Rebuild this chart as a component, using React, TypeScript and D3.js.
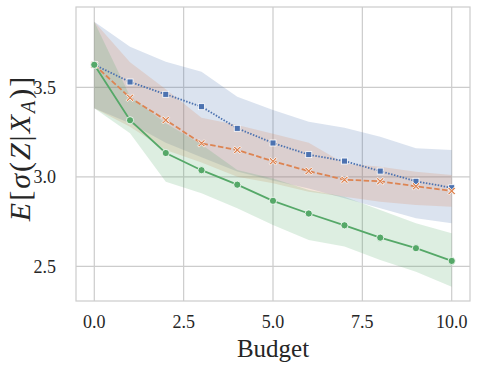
import * as d3 from "d3";

const budget = [0, 1, 2, 3, 4, 5, 6, 7, 8, 9, 10];

const blueMean = [3.626, 3.53, 3.461, 3.392, 3.271, 3.189, 3.124, 3.088, 3.032, 2.975, 2.939];
const blueUpper = [3.866, 3.727, 3.643, 3.587, 3.448, 3.373, 3.308, 3.274, 3.224, 3.159, 3.15];
const blueLower = [3.383, 3.3, 3.19, 3.11, 3.03, 2.98, 2.935, 2.88, 2.824, 2.768, 2.74];

const orangeMean = [3.626, 3.442, 3.317, 3.187, 3.15, 3.087, 3.032, 2.984, 2.975, 2.947, 2.921];
const orangeUpper = [3.866, 3.64, 3.49, 3.33, 3.29, 3.24, 3.19, 3.075, 3.056, 3.028, 3.01];
const orangeLower = [3.383, 3.28, 3.15, 3.08, 3.0, 2.964, 2.917, 2.889, 2.861, 2.842, 2.833];

const greenMean = [3.626, 3.316, 3.133, 3.037, 2.956, 2.866, 2.795, 2.729, 2.66, 2.601, 2.53];
const greenUpper = [3.866, 3.45, 3.3, 3.18, 3.038, 2.99, 2.926, 2.889, 2.815, 2.74, 2.684];
const greenLower = [3.383, 3.243, 2.973, 2.908, 2.824, 2.731, 2.647, 2.61, 2.535, 2.47, 2.386];

const xTicks = [0, 2.5, 5, 7.5, 10];
const yTicks = [2.5, 3.0, 3.5];

const width = 478;
const height = 368;
const left = 76, right = 470, top = 7, bottom = 301;
const font = "'Liberation Serif', 'DejaVu Serif', serif";

const series = [
  { name: "blue", color: "#4c72b0", mean: blueMean, upper: blueUpper, lower: blueLower, dash: "1.5,1.5", marker: "square" },
  { name: "orange", color: "#dd8452", mean: orangeMean, upper: orangeUpper, lower: orangeLower, dash: "5.5,2.4", marker: "x" },
  { name: "green", color: "#55a868", mean: greenMean, upper: greenUpper, lower: greenLower, dash: "", marker: "circle" },
];

function Marker({ type, x, y, color }: { type: string; x: number; y: number; color: string }) {
  if (type === "circle") {
    return <circle cx={x} cy={y} r={3.6} fill={color} stroke="white" strokeWidth={0.8} />;
  }
  if (type === "square") {
    return <rect x={x - 3} y={y - 3} width={6} height={6} fill={color} stroke="white" strokeWidth={0.8} />;
  }
  // filled X shape
  const a = 3.8, w = 1.3;
  const d = `M${x - a},${y - a + w} L${x - a + w},${y - a} L${x},${y - w} L${x + a - w},${y - a} L${x + a},${y - a + w} L${x + w},${y} L${x + a},${y + a - w} L${x + a - w},${y + a} L${x},${y + w} L${x - a + w},${y + a} L${x - a},${y + a - w} L${x - w},${y} Z`;
  return <path d={d} fill={color} stroke="white" strokeWidth={0.8} />;
}

export default function App() {
  const x = d3.scaleLinear().domain([-0.512, 10.512]).range([left, right]);
  const y = d3.scaleLinear().domain([2.306, 3.949]).range([bottom, top]);

  const area = (up: number[], lo: number[]) =>
    d3.area<number>()
      .x((d) => x(d))
      .y0((d, i) => y(lo[i]))
      .y1((d, i) => y(up[i]))(budget) || "";

  const line = (m: number[]) =>
    d3.line<number>()
      .x((d) => x(d))
      .y((d, i) => y(m[i]))(budget) || "";

  return (
    <svg width={width} height={height} style={{ position: "absolute", left: 0, top: 0, background: "white" }}>
      {/* grid */}
      {xTicks.map((t) => (
        <line key={"gx" + t} x1={x(t)} x2={x(t)} y1={top} y2={bottom} stroke="#cccccc" strokeWidth={1.2} />
      ))}
      {yTicks.map((t) => (
        <line key={"gy" + t} x1={left} x2={right} y1={y(t)} y2={y(t)} stroke="#cccccc" strokeWidth={1.2} />
      ))}

      {/* bands */}
      {series.map((s) => (
        <path key={"b" + s.name} d={area(s.upper, s.lower)} fill={s.color} fillOpacity={0.2} />
      ))}

      {/* lines */}
      {series.map((s) => (
        <path key={"l" + s.name} d={line(s.mean)} fill="none" stroke={s.color} strokeWidth={1.8}
          strokeDasharray={s.dash || undefined} />
      ))}

      {/* markers */}
      {series.map((s) =>
        budget.map((b, i) => (
          <Marker key={s.name + i} type={s.marker} x={x(b)} y={y(s.mean[i])} color={s.color} />
        ))
      )}

      {/* spines */}
      <rect x={left} y={top} width={right - left} height={bottom - top} fill="none" stroke="#cccccc" strokeWidth={1.2} />

      {/* tick labels */}
      {xTicks.map((t) => (
        <text key={"tx" + t} x={x(t)} y={328} textAnchor="middle" fontFamily={font} fontSize={18} fill="#262626">
          {d3.format(".1f")(t)}
        </text>
      ))}
      {yTicks.map((t) => (
        <text key={"ty" + t} x={56} y={y(t)} dy="0.35em" textAnchor="end" fontFamily={font} fontSize={18} fill="#262626">
          {d3.format(".1f")(t)}
        </text>
      ))}

      {/* axis labels */}
      <text x={273} y={357} textAnchor="middle" fontFamily={font} fontSize={25} fill="#262626">Budget</text>
      <text transform="translate(30,148) rotate(-90)" textAnchor="middle" fontFamily={font} fontSize={30}
        letterSpacing={2} fill="#262626">
        <tspan fontStyle="italic">E</tspan>
        <tspan>[</tspan>
        <tspan fontStyle="italic">σ</tspan>
        <tspan>(</tspan>
        <tspan fontStyle="italic">Z</tspan>
        <tspan>|</tspan>
        <tspan fontStyle="italic">X</tspan>
        <tspan fontStyle="italic" fontSize={20} dy={5}>A</tspan>
        <tspan dy={-5}>)]</tspan>
      </text>
    </svg>
  );
}
